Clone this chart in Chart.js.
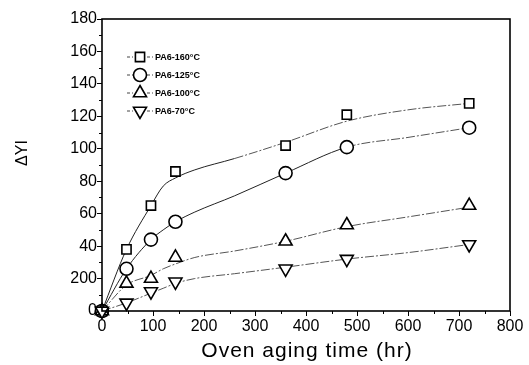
<!DOCTYPE html>
<html>
<head>
<meta charset="utf-8">
<script src="https://cdn.jsdelivr.net/npm/chart.js@4.4.0/dist/chart.umd.min.js"></script>
<style>
  html, body { margin: 0; padding: 0; background: #fff; }
</style>
</head>
<body>
<canvas id="grafico" width="529" height="365"></canvas>
<script>
// oven aging times (hr) of the measured points
const tiempos = [0, 48, 96, 144, 360, 480, 720];

// measured ΔYI per temperature
const pa160 = [0, 38, 65, 86, 102, 121, 128];
const pa125 = [0, 26, 44, 55, 85, 101, 113];
const pa100 = [0, 17, 20, 33, 43, 53, 65];
const pa70 = [0, 5, 12, 18, 26, 32, 41];

// fitted curves
const tiemposAjuste = [0, 48, 96, 120, 144, 182, 260, 360, 480, 600, 720];
const ajuste160 = [0, 38, 65, 77, 82, 87, 94, 104, 117, 124, 128];
const ajuste125 = [0, 26, 44, 50, 55, 61, 71, 85, 101, 107, 113];
const ajuste100 = [0, 16, 22, 26, 29, 33, 37, 43, 52, 58, 64];
const ajuste70 = [0, 5, 11, 14, 17, 20, 23, 27, 32, 36, 41];

const nombres = ['PA6-160°C', 'PA6-125°C', 'PA6-100°C', 'PA6-70°C'];
const yTicks = ['0', '200', '40', '60', '80', '100', '120', '140', '160', '180'];
const xTicks = ['0', '100', '200', '300', '400', '500', '600', '700', '800'];

const fuente = '"Liberation Sans", Arial, sans-serif';

const estilos = [
  { pointStyle: 'rect', rotation: 0, radius: 6.5 },
  { pointStyle: 'circle', rotation: 0, radius: 6.5 },
  { pointStyle: 'triangle', rotation: 0, radius: 7.5 },
  { pointStyle: 'triangle', rotation: 180, radius: 7.5 }
];
// where each fitted line stops being solid
const solidoHasta = [260, 480, 0, 0];

const medidas = [pa160, pa125, pa100, pa70];
const ajustes = [ajuste160, ajuste125, ajuste100, ajuste70];

const marcadores = medidas.map((vals, i) => ({
  label: nombres[i],
  data: vals.map((v, k) => ({ x: tiempos[k], y: v })),
  showLine: false,
  clip: false,
  order: 4 - i,
  pointStyle: estilos[i].pointStyle,
  rotation: estilos[i].rotation,
  pointRadius: estilos[i].radius,
  pointBackgroundColor: '#fff',
  pointBorderColor: '#000',
  pointBorderWidth: 1.6
}));

const curvas = ajustes.map((vals, i) => ({
  label: nombres[i] + ' ajuste',
  data: vals.map((v, k) => ({ x: tiemposAjuste[k], y: v })),
  borderColor: '#222',
  borderWidth: 1,
  pointRadius: 0,
  order: 10,
  cubicInterpolationMode: 'monotone',
  segment: {
    borderDash: (c) => c.p0.parsed.x < solidoHasta[i] ? [] : [9, 2, 2, 2],
    borderColor: (c) => c.p0.parsed.x < solidoHasta[i] ? '#222' : '#555'
  },
  fill: false
}));

// frame, minor ticks, axis titles and legend
const marcoPlugin = {
  id: 'marco',
  afterDraw(chart) {
    const ctx = chart.ctx;
    const a = chart.chartArea;
    const xs = chart.scales.x, ys = chart.scales.y;
    ctx.save();
    ctx.strokeStyle = '#000';
    ctx.lineWidth = 1.6;
    ctx.strokeRect(a.left, a.top, a.right - a.left, a.bottom - a.top);
    ctx.lineWidth = 1;
    for (let v = 10; v < 180; v += 20) {
      const y = Math.round(ys.getPixelForValue(v)) + 0.5;
      ctx.beginPath(); ctx.moveTo(a.left - 3, y); ctx.lineTo(a.left, y); ctx.stroke();
    }
    for (let v = 50; v < 800; v += 100) {
      const x = Math.round(xs.getPixelForValue(v)) + 0.5;
      ctx.beginPath(); ctx.moveTo(x, a.bottom); ctx.lineTo(x, a.bottom + 3); ctx.stroke();
    }

    // axis titles
    ctx.fillStyle = '#000';
    ctx.textAlign = 'center';
    ctx.textBaseline = 'middle';
    ctx.font = '21px ' + fuente;
    ctx.letterSpacing = '1px';
    ctx.fillText('Oven aging time (hr)', (a.left + a.right) / 2 + 1, 351);
    ctx.letterSpacing = '0px';
    ctx.save();
    ctx.translate(23, 153);
    ctx.rotate(-Math.PI / 2);
    ctx.font = '16px ' + fuente;
    ctx.fillText('ΔYI', 0, 0);
    ctx.restore();

    // legend
    const lx = 140, ly = [57, 75, 93, 111];
    ctx.textAlign = 'left';
    ctx.font = 'bold 9px ' + fuente;
    marcadores.forEach((ds, i) => {
      ctx.lineWidth = 1;
      ctx.strokeStyle = '#444';
      ctx.setLineDash([3, 2]);
      ctx.beginPath();
      ctx.moveTo(lx - 13, ly[i]); ctx.lineTo(lx - 7, ly[i]);
      ctx.moveTo(lx + 7, ly[i]); ctx.lineTo(lx + 13, ly[i]);
      ctx.stroke();
      ctx.setLineDash([]);
      ctx.strokeStyle = '#000';
      ctx.fillStyle = '#fff';
      ctx.lineWidth = 1.6;
      Chart.helpers.drawPoint(ctx, {
        pointStyle: ds.pointStyle,
        rotation: ds.rotation,
        radius: ds.pointRadius,
        borderWidth: 1.6
      }, lx, ly[i]);
      ctx.fillStyle = '#000';
      ctx.fillText(ds.label, lx + 15, ly[i] + 1);
    });
    ctx.restore();
  }
};

new Chart(document.getElementById('grafico').getContext('2d'), {
  type: 'line',
  data: { datasets: curvas.concat(marcadores) },
  options: {
    responsive: false,
    animation: false,
    layout: { padding: { top: 19, right: 19, left: 0, bottom: 0 } },
    plugins: { legend: { display: false }, tooltip: { enabled: false } },
    scales: {
      x: {
        type: 'linear',
        min: 0, max: 800,
        ticks: {
          stepSize: 100,
          color: '#000',
          padding: 1,
          maxRotation: 0,
          autoSkip: false,
          font: { family: fuente, size: 16 },
          callback: (v) => xTicks[v / 100]
        },
        grid: { drawOnChartArea: false, tickLength: 5, color: '#000', lineWidth: 1 },
        border: { display: false },
        afterFit: (scale) => { scale.height = 54; }
      },
      y: {
        type: 'linear',
        min: 0, max: 180,
        ticks: {
          stepSize: 20,
          color: '#000',
          padding: 0,
          autoSkip: false,
          font: { family: fuente, size: 16 },
          callback: (v) => yTicks[v / 20]
        },
        grid: { drawOnChartArea: false, tickLength: 5, color: '#000', lineWidth: 1 },
        border: { display: false },
        afterFit: (scale) => { scale.width = 102; }
      }
    }
  },
  plugins: [marcoPlugin]
});
</script>
</body>
</html>
